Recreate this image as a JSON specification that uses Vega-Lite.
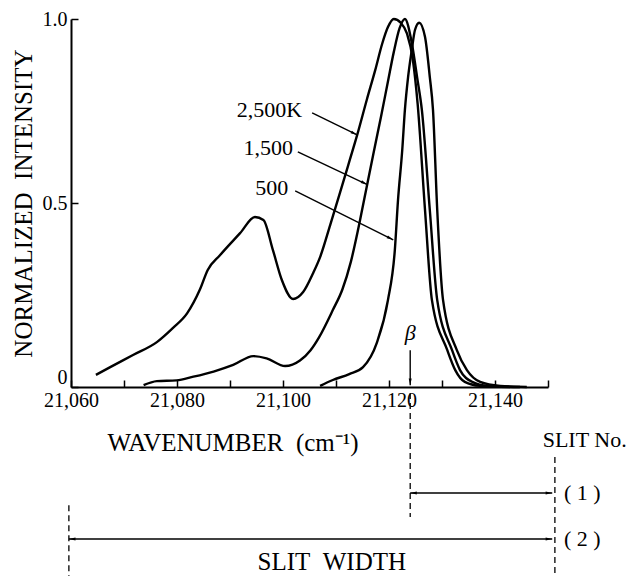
{
  "$schema": "https://vega.github.io/schema/vega-lite/v6.json",
  "width": 477,
  "height": 368,
  "autosize": "none",
  "padding": {"left": 71, "top": 19, "right": 84, "bottom": 189},
  "background": "white",
  "config": {
    "view": {"stroke": null},
    "font": "Liberation Serif",
    "text": {"font": "Liberation Serif", "color": "black"}
  },
  "datasets": {
    "spectra": [
      {"T": "2,500K", "wn": 21064.7, "I": 0.033},
      {"T": "2,500K", "wn": 21067.4, "I": 0.054},
      {"T": "2,500K", "wn": 21071.7, "I": 0.087},
      {"T": "2,500K", "wn": 21076.2, "I": 0.122},
      {"T": "2,500K", "wn": 21079.2, "I": 0.160},
      {"T": "2,500K", "wn": 21081.9, "I": 0.200},
      {"T": "2,500K", "wn": 21084.3, "I": 0.264},
      {"T": "2,500K", "wn": 21085.8, "I": 0.318},
      {"T": "2,500K", "wn": 21088.1, "I": 0.358},
      {"T": "2,500K", "wn": 21091.9, "I": 0.418},
      {"T": "2,500K", "wn": 21094.7, "I": 0.462},
      {"T": "2,500K", "wn": 21096.3, "I": 0.454},
      {"T": "2,500K", "wn": 21098.1, "I": 0.372},
      {"T": "2,500K", "wn": 21099.8, "I": 0.290},
      {"T": "2,500K", "wn": 21101.9, "I": 0.239},
      {"T": "2,500K", "wn": 21103.8, "I": 0.258},
      {"T": "2,500K", "wn": 21105.7, "I": 0.310},
      {"T": "2,500K", "wn": 21107.0, "I": 0.353},
      {"T": "2,500K", "wn": 21108.9, "I": 0.440},
      {"T": "2,500K", "wn": 21110.8, "I": 0.530},
      {"T": "2,500K", "wn": 21112.6, "I": 0.617},
      {"T": "2,500K", "wn": 21114.0, "I": 0.685},
      {"T": "2,500K", "wn": 21115.8, "I": 0.780},
      {"T": "2,500K", "wn": 21117.4, "I": 0.861},
      {"T": "2,500K", "wn": 21118.7, "I": 0.932},
      {"T": "2,500K", "wn": 21119.8, "I": 0.978},
      {"T": "2,500K", "wn": 21120.9, "I": 1.0},
      {"T": "2,500K", "wn": 21122.2, "I": 0.99},
      {"T": "2,500K", "wn": 21123.4, "I": 0.96},
      {"T": "2,500K", "wn": 21124.5, "I": 0.889},
      {"T": "2,500K", "wn": 21125.4, "I": 0.77},
      {"T": "2,500K", "wn": 21126.8, "I": 0.48},
      {"T": "2,500K", "wn": 21128.1, "I": 0.236},
      {"T": "2,500K", "wn": 21131.0, "I": 0.100},
      {"T": "2,500K", "wn": 21132.5, "I": 0.046},
      {"T": "2,500K", "wn": 21134.3, "I": 0.014},
      {"T": "2,500K", "wn": 21137.2, "I": 0.003},
      {"T": "2,500K", "wn": 21142.8, "I": 0.0},
      {"T": "1,500", "wn": 21073.7, "I": 0.005},
      {"T": "1,500", "wn": 21076.2, "I": 0.016},
      {"T": "1,500", "wn": 21079.9, "I": 0.018},
      {"T": "1,500", "wn": 21083.1, "I": 0.028},
      {"T": "1,500", "wn": 21086.9, "I": 0.042},
      {"T": "1,500", "wn": 21090.6, "I": 0.060},
      {"T": "1,500", "wn": 21094.4, "I": 0.084},
      {"T": "1,500", "wn": 21096.9, "I": 0.078},
      {"T": "1,500", "wn": 21100.4, "I": 0.057},
      {"T": "1,500", "wn": 21103.2, "I": 0.072},
      {"T": "1,500", "wn": 21105.2, "I": 0.100},
      {"T": "1,500", "wn": 21106.8, "I": 0.135},
      {"T": "1,500", "wn": 21109.4, "I": 0.209},
      {"T": "1,500", "wn": 21111.2, "I": 0.265},
      {"T": "1,500", "wn": 21112.8, "I": 0.340},
      {"T": "1,500", "wn": 21114.2, "I": 0.430},
      {"T": "1,500", "wn": 21115.6, "I": 0.530},
      {"T": "1,500", "wn": 21117.0, "I": 0.630},
      {"T": "1,500", "wn": 21118.5, "I": 0.735},
      {"T": "1,500", "wn": 21119.8, "I": 0.830},
      {"T": "1,500", "wn": 21120.9, "I": 0.910},
      {"T": "1,500", "wn": 21122.0, "I": 0.975},
      {"T": "1,500", "wn": 21123.0, "I": 1.0},
      {"T": "1,500", "wn": 21124.3, "I": 0.935},
      {"T": "1,500", "wn": 21125.3, "I": 0.842},
      {"T": "1,500", "wn": 21126.2, "I": 0.753},
      {"T": "1,500", "wn": 21127.7, "I": 0.481},
      {"T": "1,500", "wn": 21129.1, "I": 0.236},
      {"T": "1,500", "wn": 21131.9, "I": 0.100},
      {"T": "1,500", "wn": 21133.4, "I": 0.046},
      {"T": "1,500", "wn": 21135.7, "I": 0.014},
      {"T": "1,500", "wn": 21138.7, "I": 0.003},
      {"T": "1,500", "wn": 21144.7, "I": 0.0},
      {"T": "500", "wn": 21107.0, "I": 0.003},
      {"T": "500", "wn": 21109.4, "I": 0.019},
      {"T": "500", "wn": 21112.5, "I": 0.035},
      {"T": "500", "wn": 21115.1, "I": 0.054},
      {"T": "500", "wn": 21117.7, "I": 0.120},
      {"T": "500", "wn": 21119.8, "I": 0.236},
      {"T": "500", "wn": 21121.1, "I": 0.372},
      {"T": "500", "wn": 21121.7, "I": 0.508},
      {"T": "500", "wn": 21122.5, "I": 0.644},
      {"T": "500", "wn": 21123.0, "I": 0.753},
      {"T": "500", "wn": 21123.6, "I": 0.842},
      {"T": "500", "wn": 21124.3, "I": 0.916},
      {"T": "500", "wn": 21124.9, "I": 0.970},
      {"T": "500", "wn": 21125.7, "I": 0.990},
      {"T": "500", "wn": 21126.8, "I": 0.951},
      {"T": "500", "wn": 21127.7, "I": 0.842},
      {"T": "500", "wn": 21128.3, "I": 0.753},
      {"T": "500", "wn": 21129.1, "I": 0.481},
      {"T": "500", "wn": 21130.2, "I": 0.236},
      {"T": "500", "wn": 21132.8, "I": 0.100},
      {"T": "500", "wn": 21134.7, "I": 0.046},
      {"T": "500", "wn": 21137.2, "I": 0.014},
      {"T": "500", "wn": 21141.0, "I": 0.003},
      {"T": "500", "wn": 21146.0, "I": 0.0}
    ],
    "callouts": [
      {"label": "2,500K", "x0": 21105.5, "y0": 0.745, "x1": 21114.0, "y1": 0.685, "tx": 21103.6, "ty": 0.753},
      {"label": "1,500", "x0": 21102.8, "y0": 0.639, "x1": 21115.9, "y1": 0.550, "tx": 21101.9, "ty": 0.649},
      {"label": "500", "x0": 21102.3, "y0": 0.533, "x1": 21120.8, "y1": 0.400, "tx": 21101.0, "ty": 0.541}
    ],
    "beta": [
      {"label": "β", "x": 21124, "ty": 0.147, "y0": 0.100, "y1": 0.005}
    ],
    "guides": [
      {"x": 21124.0, "y0": -0.016, "y1": -0.353},
      {"x": 21151.3, "y0": -0.190, "y1": -0.52},
      {"x": 21059.6, "y0": -0.321, "y1": -0.52}
    ],
    "spans": [
      {"slit": "(1)", "x0": 21124.0, "x1": 21150.8, "y": -0.288},
      {"slit": "(2)", "x0": 21059.6, "x1": 21150.8, "y": -0.413}
    ],
    "notes": [
      {"text": "SLIT No.", "x": 21149.0, "y": -0.144, "kind": "left"},
      {"text": "( 1 )", "x": 21153.0, "y": -0.288, "kind": "left"},
      {"text": "( 2 )", "x": 21153.0, "y": -0.413, "kind": "left"},
      {"text": "SLIT\u00a0\u00a0WIDTH", "x": 21109.2, "y": -0.476, "kind": "center"}
    ]
  },
  "layer": [
    {
      "data": {"name": "spectra"},
      "mark": {"type": "line", "interpolate": "monotone", "color": "black", "strokeWidth": 2.4, "clip": false},
      "encoding": {
        "x": {
          "field": "wn", "type": "quantitative",
          "scale": {"domain": [21060, 21150], "nice": false, "zero": false},
          "axis": {
            "values": [21060, 21070, 21080, 21090, 21100, 21110, 21120, 21130, 21140, 21150],
            "labelExpr": "datum.value % 20 == 0 && datum.value < 21150 ? format(datum.value, ',') : ''",
            "grid": false,
            "domainColor": "black", "domainWidth": 2,
            "tickColor": "black", "tickWidth": 1.5, "tickSize": -7,
            "labelFont": "Liberation Serif", "labelFontSize": 20, "labelColor": "black",
            "labelPadding": 10, "labelOverlap": false, "labelFlush": false,
            "title": "WAVENUMBER\u00a0\u00a0(cm⁻¹)",
            "titleFont": "Liberation Serif", "titleFontSize": 25, "titleFontWeight": "normal",
            "titleColor": "black", "titleAnchor": "start", "titleAlign": "left",
            "titleX": 36, "titleY": 43
          }
        },
        "y": {
          "field": "I", "type": "quantitative",
          "scale": {"domain": [0, 1], "nice": false},
          "axis": {
            "values": [0, 0.5, 1],
            "labelExpr": "datum.value == 0 ? '0' : format(datum.value, '.1f')",
            "labelBaseline": {"expr": "datum.value == 0 ? 'bottom' : 'middle'"},
            "grid": false,
            "domainColor": "black", "domainWidth": 2,
            "tickColor": "black", "tickWidth": 1.5, "tickSize": -7,
            "labelFont": "Liberation Serif", "labelFontSize": 20, "labelColor": "black",
            "labelPadding": 11, "labelFlush": false,
            "title": "NORMALIZED\u00a0\u00a0INTENSITY",
            "titleFont": "Liberation Serif", "titleFontSize": 25, "titleFontWeight": "normal",
            "titleColor": "black", "titlePadding": 6
          }
        },
        "detail": {"field": "T"}
      }
    },
    {
      "data": {"name": "callouts"},
      "mark": {"type": "rule", "color": "black", "strokeWidth": 1.4},
      "encoding": {
        "x": {"field": "x0", "type": "quantitative"},
        "y": {"field": "y0", "type": "quantitative"},
        "x2": {"field": "x1"},
        "y2": {"field": "y1"}
      }
    },
    {
      "data": {"name": "callouts"},
      "mark": {"type": "point", "shape": "M0,0L-0.5,2.2L0.5,2.2Z", "filled": true, "color": "black", "opacity": 1, "size": 36, "angle": 116},
      "encoding": {
        "x": {"field": "x1", "type": "quantitative"},
        "y": {"field": "y1", "type": "quantitative"}
      }
    },
    {
      "data": {"name": "callouts"},
      "mark": {"type": "text", "align": "right", "baseline": "middle", "fontSize": 22},
      "encoding": {
        "x": {"field": "tx", "type": "quantitative"},
        "y": {"field": "ty", "type": "quantitative"},
        "text": {"field": "label"}
      }
    },
    {
      "data": {"name": "beta"},
      "mark": {"type": "text", "align": "center", "baseline": "middle", "fontSize": 22, "fontStyle": "italic"},
      "encoding": {
        "x": {"field": "x", "type": "quantitative"},
        "y": {"field": "ty", "type": "quantitative"},
        "text": {"field": "label"}
      }
    },
    {
      "data": {"name": "beta"},
      "mark": {"type": "rule", "color": "black", "strokeWidth": 1.4},
      "encoding": {
        "x": {"field": "x", "type": "quantitative"},
        "y": {"field": "y0", "type": "quantitative"},
        "y2": {"field": "y1"}
      }
    },
    {
      "data": {"name": "beta"},
      "mark": {"type": "point", "shape": "M0,0L-0.5,2.2L0.5,2.2Z", "filled": true, "color": "black", "opacity": 1, "size": 36, "angle": 180},
      "encoding": {
        "x": {"field": "x", "type": "quantitative"},
        "y": {"field": "y1", "type": "quantitative"}
      }
    },
    {
      "data": {"name": "guides"},
      "mark": {"type": "rule", "color": "black", "strokeWidth": 1.3, "strokeDash": [6, 4]},
      "encoding": {
        "x": {"field": "x", "type": "quantitative"},
        "y": {"field": "y0", "type": "quantitative"},
        "y2": {"field": "y1"}
      }
    },
    {
      "data": {"name": "spans"},
      "mark": {"type": "rule", "color": "black", "strokeWidth": 1.3},
      "encoding": {
        "x": {"field": "x0", "type": "quantitative"},
        "x2": {"field": "x1"},
        "y": {"field": "y", "type": "quantitative"}
      }
    },
    {
      "data": {"name": "spans"},
      "mark": {"type": "point", "shape": "M0,0L-0.5,2.2L0.5,2.2Z", "filled": true, "color": "black", "opacity": 1, "size": 36, "angle": 270},
      "encoding": {
        "x": {"field": "x0", "type": "quantitative"},
        "y": {"field": "y", "type": "quantitative"}
      }
    },
    {
      "data": {"name": "spans"},
      "mark": {"type": "point", "shape": "M0,0L-0.5,2.2L0.5,2.2Z", "filled": true, "color": "black", "opacity": 1, "size": 36, "angle": 90},
      "encoding": {
        "x": {"field": "x1", "type": "quantitative"},
        "y": {"field": "y", "type": "quantitative"}
      }
    },
    {
      "data": {"name": "notes"},
      "transform": [{"filter": "datum.kind == 'left'"}],
      "mark": {"type": "text", "align": "left", "baseline": "middle", "fontSize": 22},
      "encoding": {
        "x": {"field": "x", "type": "quantitative"},
        "y": {"field": "y", "type": "quantitative"},
        "text": {"field": "text"}
      }
    },
    {
      "data": {"name": "notes"},
      "transform": [{"filter": "datum.kind == 'center'"}],
      "mark": {"type": "text", "align": "center", "baseline": "middle", "fontSize": 25},
      "encoding": {
        "x": {"field": "x", "type": "quantitative"},
        "y": {"field": "y", "type": "quantitative"},
        "text": {"field": "text"}
      }
    }
  ]
}
